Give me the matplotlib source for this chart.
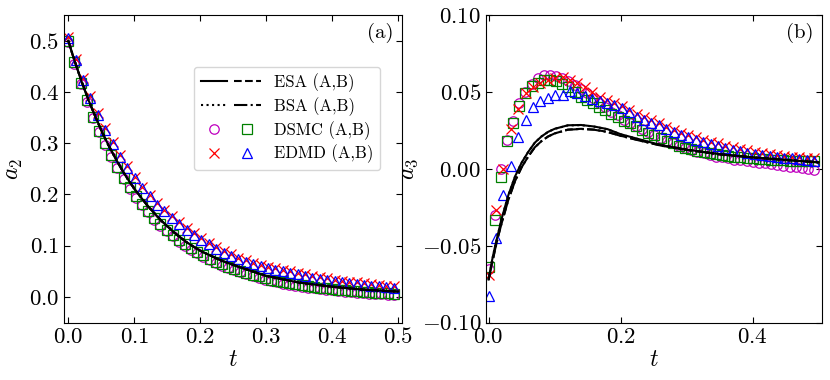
import numpy as np
import matplotlib
matplotlib.use("Agg")
import matplotlib.pyplot as plt
from matplotlib.legend_handler import HandlerTuple

plt.rcParams['font.family'] = 'serif'
plt.rcParams['font.serif'] = ['cmr10', 'DejaVu Serif']
plt.rcParams['mathtext.fontset'] = 'cm'
plt.rcParams['axes.formatter.use_mathtext'] = True
plt.rcParams['axes.unicode_minus'] = True

# ---------------- data ----------------
dt_dsmc = 0.0093
dt_edmd = 0.0112

t_line = [0, 0.005, 0.01, 0.015, 0.02, 0.03, 0.04, 0.05, 0.06, 0.07, 0.08, 0.09, 0.1,
          0.12, 0.14, 0.16, 0.18, 0.2, 0.23, 0.26, 0.3, 0.35, 0.4, 0.45, 0.5]

# panel (a): a2
a2_esa_A = [0.500, 0.479, 0.459, 0.440, 0.421, 0.386, 0.355, 0.325, 0.298, 0.274, 0.251, 0.230, 0.211,
            0.178, 0.150, 0.126, 0.106, 0.090, 0.072, 0.058, 0.041, 0.028, 0.020, 0.014, 0.011]
a2_esa_B = [0.500, 0.479, 0.459, 0.440, 0.421, 0.386, 0.355, 0.325, 0.298, 0.274, 0.251, 0.230, 0.211,
            0.178, 0.150, 0.126, 0.106, 0.090, 0.072, 0.058, 0.041, 0.028, 0.020, 0.014, 0.010]
a2_bsa_A = [0.500, 0.479, 0.459, 0.440, 0.421, 0.386, 0.355, 0.325, 0.298, 0.274, 0.251, 0.230, 0.211,
            0.178, 0.150, 0.126, 0.106, 0.090, 0.072, 0.058, 0.041, 0.028, 0.020, 0.014, 0.011]
a2_bsa_B = [0.500, 0.479, 0.459, 0.440, 0.421, 0.386, 0.355, 0.325, 0.298, 0.274, 0.251, 0.230, 0.211,
            0.178, 0.150, 0.126, 0.106, 0.090, 0.072, 0.058, 0.041, 0.028, 0.020, 0.014, 0.010]

a2_dsmc_B = [0.500, 0.458, 0.418, 0.384, 0.352, 0.324, 0.300, 0.276, 0.254, 0.233,
             0.214, 0.197, 0.182, 0.168, 0.154, 0.142, 0.131, 0.121, 0.111, 0.103,
             0.095, 0.088, 0.081, 0.075, 0.069, 0.064, 0.059, 0.055, 0.051, 0.047,
             0.043, 0.040, 0.037, 0.034, 0.032, 0.029, 0.027, 0.025, 0.023, 0.021,
             0.020, 0.018, 0.017, 0.016, 0.014, 0.013, 0.012, 0.011, 0.010, 0.009,
             0.008, 0.008, 0.007, 0.006]
a2_dsmc_A = [0.498, 0.455, 0.415, 0.381, 0.349, 0.321, 0.297, 0.273, 0.251, 0.230,
             0.211, 0.194, 0.179, 0.165, 0.151, 0.139, 0.128, 0.118, 0.108, 0.100,
             0.092, 0.085, 0.078, 0.072, 0.066, 0.061, 0.056, 0.052, 0.048, 0.044,
             0.040, 0.037, 0.034, 0.031, 0.029, 0.026, 0.024, 0.022, 0.020, 0.018,
             0.017, 0.015, 0.014, 0.013, 0.011, 0.010, 0.009, 0.008, 0.007, 0.006,
             0.005, 0.005, 0.004, 0.003]

a2_edmd_B = [0.505, 0.462, 0.424, 0.389, 0.355, 0.326, 0.299, 0.274, 0.252, 0.232,
             0.212, 0.196, 0.180, 0.167, 0.154, 0.143, 0.131, 0.121, 0.112, 0.103,
             0.094, 0.086, 0.080, 0.074, 0.069, 0.064, 0.060, 0.056, 0.053, 0.050,
             0.047, 0.044, 0.041, 0.038, 0.036, 0.034, 0.031, 0.029, 0.027, 0.026,
             0.024, 0.022, 0.021, 0.019, 0.018]
a2_edmd_A = [0.508, 0.465, 0.427, 0.392, 0.358, 0.329, 0.302, 0.277, 0.255, 0.235,
             0.215, 0.199, 0.183, 0.170, 0.157, 0.146, 0.134, 0.124, 0.115, 0.106,
             0.097, 0.089, 0.083, 0.077, 0.072, 0.067, 0.063, 0.059, 0.056, 0.053,
             0.050, 0.047, 0.044, 0.041, 0.039, 0.037, 0.034, 0.032, 0.030, 0.029,
             0.027, 0.025, 0.024, 0.022, 0.021]

# panel (b): a3
a3_esa_A = [-0.072, -0.060, -0.050, -0.041, -0.032, -0.017, -0.005, 0.004, 0.011, 0.017, 0.021, 0.024, 0.026,
            0.0283, 0.0285, 0.0275, 0.0258, 0.0225, 0.019, 0.0155, 0.0125, 0.0095, 0.0075, 0.0058, 0.0042]
a3_esa_B = [-0.072, -0.062, -0.052, -0.043, -0.035, -0.020, -0.008, 0.001, 0.008, 0.014, 0.018, 0.021, 0.023,
            0.0255, 0.0260, 0.0255, 0.0240, 0.0215, 0.0183, 0.0152, 0.0123, 0.0094, 0.0074, 0.0057, 0.0042]
a3_bsa_A = [-0.072, -0.060, -0.050, -0.041, -0.032, -0.017, -0.005, 0.004, 0.011, 0.017, 0.021, 0.024, 0.026,
            0.0282, 0.0284, 0.0274, 0.0257, 0.0224, 0.0189, 0.0155, 0.0125, 0.0095, 0.0075, 0.0058, 0.0042]
a3_bsa_B = [-0.072, -0.062, -0.052, -0.043, -0.035, -0.020, -0.008, 0.001, 0.008, 0.014, 0.018, 0.021, 0.023,
            0.0254, 0.0259, 0.0254, 0.0239, 0.0214, 0.0182, 0.0152, 0.0123, 0.0094, 0.0074, 0.0057, 0.0042]

a3_dsmc_A = [-0.065, -0.030, 0.000, 0.019, 0.031, 0.043, 0.050, 0.055, 0.059, 0.061,
             0.061, 0.0605, 0.059, 0.057, 0.0545, 0.052, 0.049, 0.046, 0.043, 0.040,
             0.037, 0.035, 0.032, 0.030, 0.028, 0.026, 0.024, 0.022, 0.020, 0.018,
             0.0165, 0.015, 0.0135, 0.012, 0.011, 0.010, 0.009, 0.008, 0.0075, 0.007,
             0.006, 0.0055, 0.005, 0.0045, 0.004, 0.0035, 0.003, 0.0025, 0.002, 0.0015,
             0.001, 0.0005, 0.000, -0.0005]
a3_dsmc_B = [-0.064, -0.033, -0.005, 0.018, 0.030, 0.041, 0.049, 0.054, 0.056, 0.058,
             0.058, 0.057, 0.055, 0.053, 0.050, 0.047, 0.045, 0.0425, 0.0405, 0.038,
             0.0355, 0.0335, 0.031, 0.0295, 0.028, 0.0255, 0.0235, 0.022, 0.020, 0.018,
             0.0165, 0.015, 0.0135, 0.0128, 0.0118, 0.011, 0.010, 0.0095, 0.009, 0.0085,
             0.008, 0.0075, 0.007, 0.0068, 0.0065, 0.0062, 0.006, 0.0058, 0.0055, 0.0054,
             0.0053, 0.0052, 0.0053, 0.0054]

a3_edmd_A = [-0.069, -0.027, 0.000, 0.026, 0.039, 0.049, 0.053, 0.056, 0.058, 0.059,
             0.0595, 0.058, 0.056, 0.053, 0.050, 0.047, 0.045, 0.043, 0.041, 0.038,
             0.0355, 0.0335, 0.0315, 0.0295, 0.0275, 0.0255, 0.0235, 0.022, 0.0205, 0.019,
             0.0175, 0.0165, 0.015, 0.014, 0.013, 0.012, 0.011, 0.0105, 0.0098, 0.009,
             0.0085, 0.008, 0.0075, 0.007, 0.0068]
a3_edmd_B = [-0.083, -0.045, -0.017, 0.002, 0.021, 0.032, 0.040, 0.044, 0.046, 0.048,
             0.048, 0.0505, 0.049, 0.0475, 0.0455, 0.044, 0.0425, 0.0415, 0.0395, 0.037,
             0.034, 0.032, 0.030, 0.0285, 0.026, 0.024, 0.022, 0.021, 0.019, 0.0177,
             0.016, 0.015, 0.0135, 0.0125, 0.0115, 0.0102, 0.0096, 0.009, 0.0083, 0.0078,
             0.0072, 0.0068, 0.0063, 0.0058, 0.0054]

t_dsmc = np.arange(len(a2_dsmc_B)) * dt_dsmc
t_edmd = np.arange(len(a2_edmd_B)) * dt_edmd

# ---------------- plot ----------------
fig = plt.figure(figsize=(8.3, 3.8), dpi=100)
axa = fig.add_axes([0.0775, 0.151, 0.4065, 0.8095])
axb = fig.add_axes([0.5855, 0.151, 0.405, 0.8095])

ms = 6.8
mew = 0.9
lw = 1.5


def draw(ax, dA, dB, eA, eB, esaA, esaB, bsaA, bsaB):
    hc, = ax.plot(t_dsmc, dA, 'o', mfc='none', mec='m', ms=ms, mew=mew, zorder=2)
    hs, = ax.plot(t_dsmc, dB, 's', mfc='none', mec='g', ms=ms, mew=mew, zorder=2)
    hx, = ax.plot(t_edmd, eA, 'x', color='r', ms=ms, mew=mew, zorder=2)
    ht, = ax.plot(t_edmd, eB, '^', mfc='none', mec='b', ms=ms + 0.5, mew=mew, zorder=2)
    l1, = ax.plot(t_line, esaA, '-', color='k', lw=lw, zorder=3)
    l2, = ax.plot(t_line, esaB, '--', color='k', lw=lw, zorder=3)
    l3, = ax.plot(t_line, bsaA, ':', color='k', lw=lw, zorder=3)
    l4, = ax.plot(t_line, bsaB, '-.', color='k', lw=lw, zorder=3)
    ax.tick_params(direction='in', top=True, right=True, labelsize=16.5, length=4)
    return (l1, l2), (l3, l4), (hc, hs), (hx, ht)


ha = draw(axa, a2_dsmc_A, a2_dsmc_B, a2_edmd_A, a2_edmd_B, a2_esa_A, a2_esa_B, a2_bsa_A, a2_bsa_B)
draw(axb, a3_dsmc_A, a3_dsmc_B, a3_edmd_A, a3_edmd_B, a3_esa_A, a3_esa_B, a3_bsa_A, a3_bsa_B)

axa.set_xlim(-0.006, 0.505)
axa.set_ylim(-0.05, 0.55)
axa.set_xticks([0.0, 0.1, 0.2, 0.3, 0.4, 0.5])
axa.set_yticks([0.0, 0.1, 0.2, 0.3, 0.4, 0.5])
axa.set_xlabel('$t$', fontsize=17, labelpad=1)
axa.set_ylabel('$a_2$', fontsize=17, labelpad=3)
axa.text(0.975, 0.975, '(a)', transform=axa.transAxes, ha='right', va='top', fontsize=15)

axb.set_xlim(-0.004, 0.505)
axb.set_ylim(-0.10, 0.10)
axb.set_xticks([0.0, 0.2, 0.4])
axb.set_yticks([-0.10, -0.05, 0.0, 0.05, 0.10])
axb.set_xlabel('$t$', fontsize=17, labelpad=1)
axb.set_ylabel('$a_3$', fontsize=17, labelpad=1)
axb.text(0.975, 0.975, '(b)', transform=axb.transAxes, ha='right', va='top', fontsize=15)

labels = ['ESA (A,B)', 'BSA (A,B)', 'DSMC (A,B)', 'EDMD (A,B)']
axa.legend(list(ha), labels, handler_map={tuple: HandlerTuple(ndivide=None, pad=0.4)},
           loc='upper right', bbox_to_anchor=(0.936, 0.832), fontsize=12,
           handlelength=3.6, handletextpad=0.8, labelspacing=0.3, borderpad=0.4,
           numpoints=1, framealpha=0.8, borderaxespad=0)

fig.savefig('out.png', dpi=100)
